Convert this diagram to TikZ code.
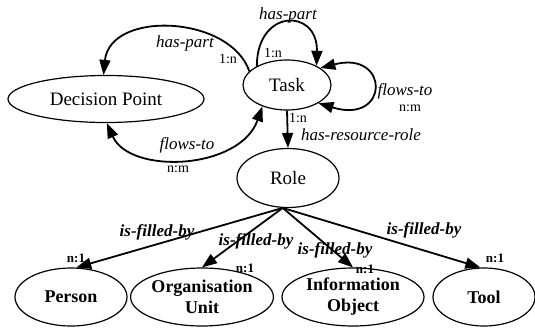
\documentclass[tikz,border=0pt]{standalone}
\usepackage{fontspec}
\setmainfont{Liberation Serif}
\usetikzlibrary{shapes.geometric,arrows.meta}

\tikzset{
  concept/.style={draw,ellipse,line width=1.2pt,inner sep=0pt,
    font=\fontsize{19}{21}\selectfont},
  resource/.style={concept,align=center,
    font=\fontsize{18}{21}\selectfont\bfseries},
  rel/.style={line width=1.8pt,->},
  birel/.style={line width=1.8pt,<->},
  relname/.style={inner sep=0pt,font=\fontsize{17}{19}\selectfont\itshape},
  fillname/.style={relname,font=\fontsize{17}{19}\selectfont\bfseries\itshape},
  card/.style={inner sep=0pt,font=\fontsize{14}{16}\selectfont},
  bcard/.style={inner sep=0pt,font=\fontsize{13}{15}\selectfont\bfseries},
}

\begin{document}
\begin{tikzpicture}[x=1pt,y=-1pt,>={Triangle[length=15pt,width=11pt]}]
\useasboundingbox (0,0) rectangle (535,327);

    % process concepts
    \node[concept,minimum width=196pt,minimum height=47pt] (dp) at (106,99) {Decision Point};
    \node[concept,minimum width=88pt,minimum height=50pt] (task) at (287,85) {Task};
    \node[concept,minimum width=102pt,minimum height=59pt] (role) at (288,178) {Role};

    % resources
    \node[resource,minimum width=112pt,minimum height=58pt] (person) at (71,297) {Person};
    \node[resource,minimum width=136pt,minimum height=58pt] (orgunit) at (202,297) {Organisation\\Unit};
    \node[resource,minimum width=142pt,minimum height=58pt] (infoobj) at (353,297) {Information\\Object};
    \node[resource,minimum width=102pt,minimum height=58pt] (tool) at (484,297) {Tool};

    % task <-> decision point
    \draw[rel] (task.160) .. controls (230,15) and (110,10) .. (dp.96);
    \node[relname] (hpdp) at (185,43) {has-part};
    \node[card] (hpdpc) at (228,59) {1:n};
    \draw[birel] (dp.-88) .. controls (130,175) and (240,170) .. (task.-139);
    \node[relname] (ftdp) at (187,145) {flows-to};
    \node[card] (ftdpc) at (178,169) {n:m};

    % task self loops
    \draw[rel] (task.148) .. controls (257,8) and (318,8) .. (task.33);
    \node[relname] (hpt) at (288,15) {has-part};
    \node[card] (hptc) at (273,53) {1:n};
    \draw[birel] (task.27) .. controls (390,50) and (390,125) .. (task.-30);
    \node[relname] (ftt) at (405,91) {flows-to};
    \node[card] (fttc) at (410,108) {n:m};

    % task -> role
    \draw[rel] (task.south) -- (role.north);
    \node[card] (hrrc) at (298,118) {1:n};
    \node[relname] (hrr) at (361,135) {has-resource-role};

    % role -> resources
    \draw[rel] (role.260) -- (person.80);
    \draw[rel] (role.260) -- (orgunit.north);
    \draw[rel] (role.260) -- (infoobj.north);
    \draw[rel] (role.260) -- (tool.97);
    \node[fillname] (ifb1) at (157,232) {is-filled-by};
    \node[bcard] (ifb1c) at (76,258) {n:1};
    \node[fillname] (ifb2) at (256,241) {is-filled-by};
    \node[bcard] (ifb2c) at (245,268) {n:1};
    \node[fillname] (ifb3) at (335,250) {is-filled-by};
    \node[bcard] (ifb3c) at (365,269) {n:1};
    \node[fillname] (ifb4) at (424,230) {is-filled-by};
    \node[bcard] (ifb4c) at (495,258) {n:1};
\end{tikzpicture}
\end{document}
